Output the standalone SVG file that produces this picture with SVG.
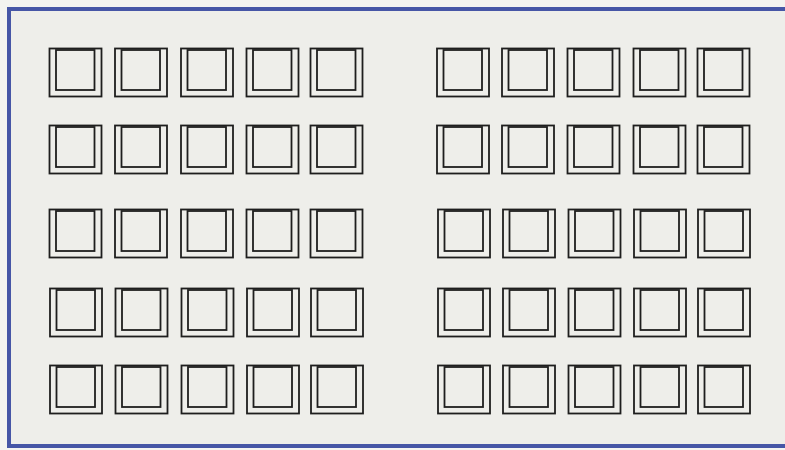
<svg xmlns="http://www.w3.org/2000/svg" width="785" height="450" viewBox="0 0 785 450">
<defs>
<style>
.frame{fill:#eeeeea;stroke:#4656a6;stroke-width:4}
.o{fill:none;stroke:#1e1e1e;stroke-width:1.8}
.i{fill:none;stroke:#1e1e1e;stroke-width:1.8}
</style>
<g id="seat">
<rect class="o" x="0" y="0" width="52" height="48"/>
<rect class="i" x="6.5" y="1.5" width="38.5" height="40"/>
</g>
</defs>
<rect x="0" y="0" width="785" height="450" fill="#f3f3f0"/>
<rect class="frame" x="9" y="9" width="790" height="437"/>
<g id="left-block">
<g id="r1"><use href="#seat" x="49.5" y="48.5"/><use href="#seat" x="115" y="48.5"/><use href="#seat" x="181" y="48.5"/><use href="#seat" x="246.5" y="48.5"/><use href="#seat" x="310.5" y="48.5"/></g>
<g id="r2"><use href="#seat" x="49.5" y="125.5"/><use href="#seat" x="115" y="125.5"/><use href="#seat" x="181" y="125.5"/><use href="#seat" x="246.5" y="125.5"/><use href="#seat" x="310.5" y="125.5"/></g>
<g id="r3"><use href="#seat" x="49.5" y="209.5"/><use href="#seat" x="115" y="209.5"/><use href="#seat" x="181" y="209.5"/><use href="#seat" x="246.5" y="209.5"/><use href="#seat" x="310.5" y="209.5"/></g>
<g id="r4"><use href="#seat" x="50" y="288.5"/><use href="#seat" x="115.5" y="288.5"/><use href="#seat" x="181.5" y="288.5"/><use href="#seat" x="247" y="288.5"/><use href="#seat" x="311" y="288.5"/></g>
<g id="r5"><use href="#seat" x="50" y="365.5"/><use href="#seat" x="115.5" y="365.5"/><use href="#seat" x="181.5" y="365.5"/><use href="#seat" x="247" y="365.5"/><use href="#seat" x="311" y="365.5"/></g>
</g>
<g id="right-block">
<g id="r1b"><use href="#seat" x="437" y="48.5"/><use href="#seat" x="502" y="48.5"/><use href="#seat" x="567.5" y="48.5"/><use href="#seat" x="633.5" y="48.5"/><use href="#seat" x="697.5" y="48.5"/></g>
<g id="r2b"><use href="#seat" x="437" y="125.5"/><use href="#seat" x="502" y="125.5"/><use href="#seat" x="567.5" y="125.5"/><use href="#seat" x="633.5" y="125.5"/><use href="#seat" x="697.5" y="125.5"/></g>
<g id="r3b"><use href="#seat" x="438" y="209.5"/><use href="#seat" x="503" y="209.5"/><use href="#seat" x="568.5" y="209.5"/><use href="#seat" x="634" y="209.5"/><use href="#seat" x="698" y="209.5"/></g>
<g id="r4b"><use href="#seat" x="438" y="288.5"/><use href="#seat" x="503" y="288.5"/><use href="#seat" x="568.5" y="288.5"/><use href="#seat" x="634" y="288.5"/><use href="#seat" x="698" y="288.5"/></g>
<g id="r5b"><use href="#seat" x="438" y="365.5"/><use href="#seat" x="503" y="365.5"/><use href="#seat" x="568.5" y="365.5"/><use href="#seat" x="634" y="365.5"/><use href="#seat" x="698" y="365.5"/></g>
</g>
</svg>
